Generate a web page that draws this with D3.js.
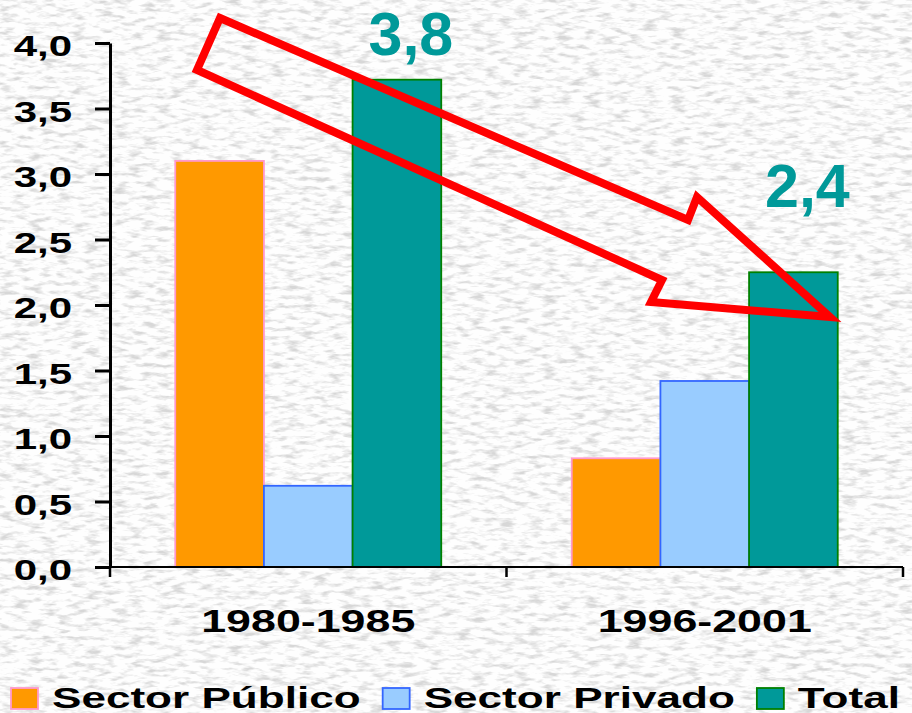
<!DOCTYPE html>
<html>
<head>
<meta charset="utf-8">
<script src="https://cdn.jsdelivr.net/npm/d3@7"></script>
<style>
  body { margin: 0; background: #fff; overflow: hidden; }
</style>
</head>
<body>
<div class="canvas"></div>
<script>
// data
const periods = ["1980-1985", "1996-2001"];
const series = ["Sector Público", "Sector Privado", "Total"];
const publico = [3.10, 0.83];
const privado = [0.62, 1.42];
const total = [3.72, 2.25];
const totalLabels = ["3,8", "2,4"];
const yTicks = [0, 0.5, 1, 1.5, 2, 2.5, 3, 3.5, 4];

const fills = ["#FF9900", "#99CCFF", "#009999"];
const strokes = ["#FF99CC", "#3366FF", "#008000"];

const W = 912, H = 713;
const stretch = 1.4;   // the text in the picture is drawn wide
const font = "Arial, 'Liberation Sans', sans-serif";

const svg = d3.select(".canvas").append("svg").attr("width", W).attr("height", H);

// paper texture background
const defs = svg.append("defs");
const paper = defs.append("filter").attr("id", "paper")
    .attr("filterUnits", "userSpaceOnUse")
    .attr("x", 0).attr("y", 0).attr("width", W).attr("height", H);
paper.append("feTurbulence")
    .attr("type", "fractalNoise")
    .attr("baseFrequency", "0.07 0.22")
    .attr("numOctaves", 3)
    .attr("seed", 7);
paper.append("feColorMatrix")
    .attr("type", "matrix")
    .attr("values", "0 0 0 0 0.68  0 0 0 0 0.68  0 0 0 0 0.68  3.2 0 0 0 -1.5");

svg.append("rect").attr("width", W).attr("height", H).attr("fill", "#fefefe");
svg.append("rect").attr("width", W).attr("height", H).attr("fill", "#fff").attr("filter", "url(#paper)");

// scales
const x0 = d3.scaleBand().domain(periods).range([110, 903]);
const x1 = d3.scaleBand().domain(series).range([0, x0.bandwidth()]).paddingOuter(0.736);
const y = d3.scaleLinear().domain([0, 4]).range([567, 43]);

const rows = periods.map((p, i) => ({
    period: p,
    values: [publico[i], privado[i], total[i]]
}));

// bars
const groups = svg.selectAll("g.group").data(rows).join("g")
    .attr("class", "group")
    .attr("transform", d => `translate(${x0(d.period)},0)`);

groups.selectAll("rect").data(d => d.values.map((v, k) => ({ s: series[k], v: v, k: k }))).join("rect")
    .attr("x", d => x1(d.s))
    .attr("y", d => y(d.v))
    .attr("width", x1.bandwidth())
    .attr("height", d => y(0) - y(d.v))
    .attr("fill", d => fills[d.k])
    .attr("stroke", d => strokes[d.k])
    .attr("stroke-width", 1.8);

// y axis
const yAxis = svg.append("g")
    .attr("transform", "translate(110,0)")
    .call(d3.axisLeft(y).tickValues(yTicks).tickSize(15).tickSizeOuter(0)
        .tickFormat(d => d3.format(".1f")(d).replace(".", ",")));
yAxis.select(".domain").attr("stroke", "#000").attr("stroke-width", 3);
yAxis.selectAll(".tick line").attr("stroke", "#000").attr("stroke-width", 3);
yAxis.selectAll(".tick text")
    .attr("x", 0)
    .attr("dy", "0.42em")
    .attr("transform", `translate(-38,0) scale(${stretch},1)`)
    .attr("fill", "#000")
    .attr("font-family", font)
    .attr("font-weight", "bold")
    .attr("font-size", "30px");

// x axis
svg.append("line")
    .attr("x1", x0.range()[0]).attr("x2", x0.range()[1])
    .attr("y1", y(0)).attr("y2", y(0))
    .attr("stroke", "#000").attr("stroke-width", 2);

const bounds = [x0.range()[0]].concat(periods.map(p => x0(p) + x0.bandwidth()));
svg.selectAll("line.xtick").data(bounds).join("line")
    .attr("class", "xtick")
    .attr("x1", d => d).attr("x2", d => d)
    .attr("y1", y(0)).attr("y2", y(0) + 10)
    .attr("stroke", "#000").attr("stroke-width", 2.5);

svg.selectAll("text.xlab").data(periods).join("text")
    .attr("class", "xlab")
    .attr("transform", d => `translate(${x0(d) + x0.bandwidth() / 2},${y(0) + 65}) scale(${stretch},1)`)
    .attr("text-anchor", "middle")
    .attr("font-family", font)
    .attr("font-weight", "bold")
    .attr("font-size", "32px")
    .attr("fill", "#000")
    .text(d => d);

// arrow showing the drop
const arrowPts = [[220, 18], [688, 220], [697, 197], [830, 317], [651, 302], [662, 280], [197, 70]];
svg.append("polygon")
    .attr("points", arrowPts.map(p => p.join(",")).join(" "))
    .attr("fill", "none")
    .attr("stroke", "#FF0000")
    .attr("stroke-width", 8)
    .attr("stroke-linejoin", "miter");

// total labels above the teal bars
const labelLift = [25, 65];
svg.selectAll("text.tlab").data(rows).join("text")
    .attr("class", "tlab")
    .attr("x", (d, i) => x0(d.period) + x1("Total") + x1.bandwidth() / 2 + 14)
    .attr("y", (d, i) => y(total[i]) - labelLift[i])
    .attr("text-anchor", "middle")
    .attr("font-family", font)
    .attr("font-weight", "bold")
    .attr("font-size", "61px")
    .attr("fill", "#009999")
    .text((d, i) => totalLabels[i]);

// legend
const legend = svg.append("g");
const legStretch = 1.47;
let lx = 11;
series.forEach((s, k) => {
    legend.append("rect")
        .attr("x", lx).attr("y", 688)
        .attr("width", 27).attr("height", 21)
        .attr("fill", fills[k])
        .attr("stroke", strokes[k])
        .attr("stroke-width", 1.8);
    const t = legend.append("text")
        .attr("transform", `translate(${lx + 41},708) scale(${legStretch},1)`)
        .attr("font-family", font)
        .attr("font-weight", "bold")
        .attr("font-size", "30px")
        .attr("fill", "#000")
        .text(s);
    lx = lx + 41 + t.node().getComputedTextLength() * legStretch + 22;
});
</script>
</body>
</html>
